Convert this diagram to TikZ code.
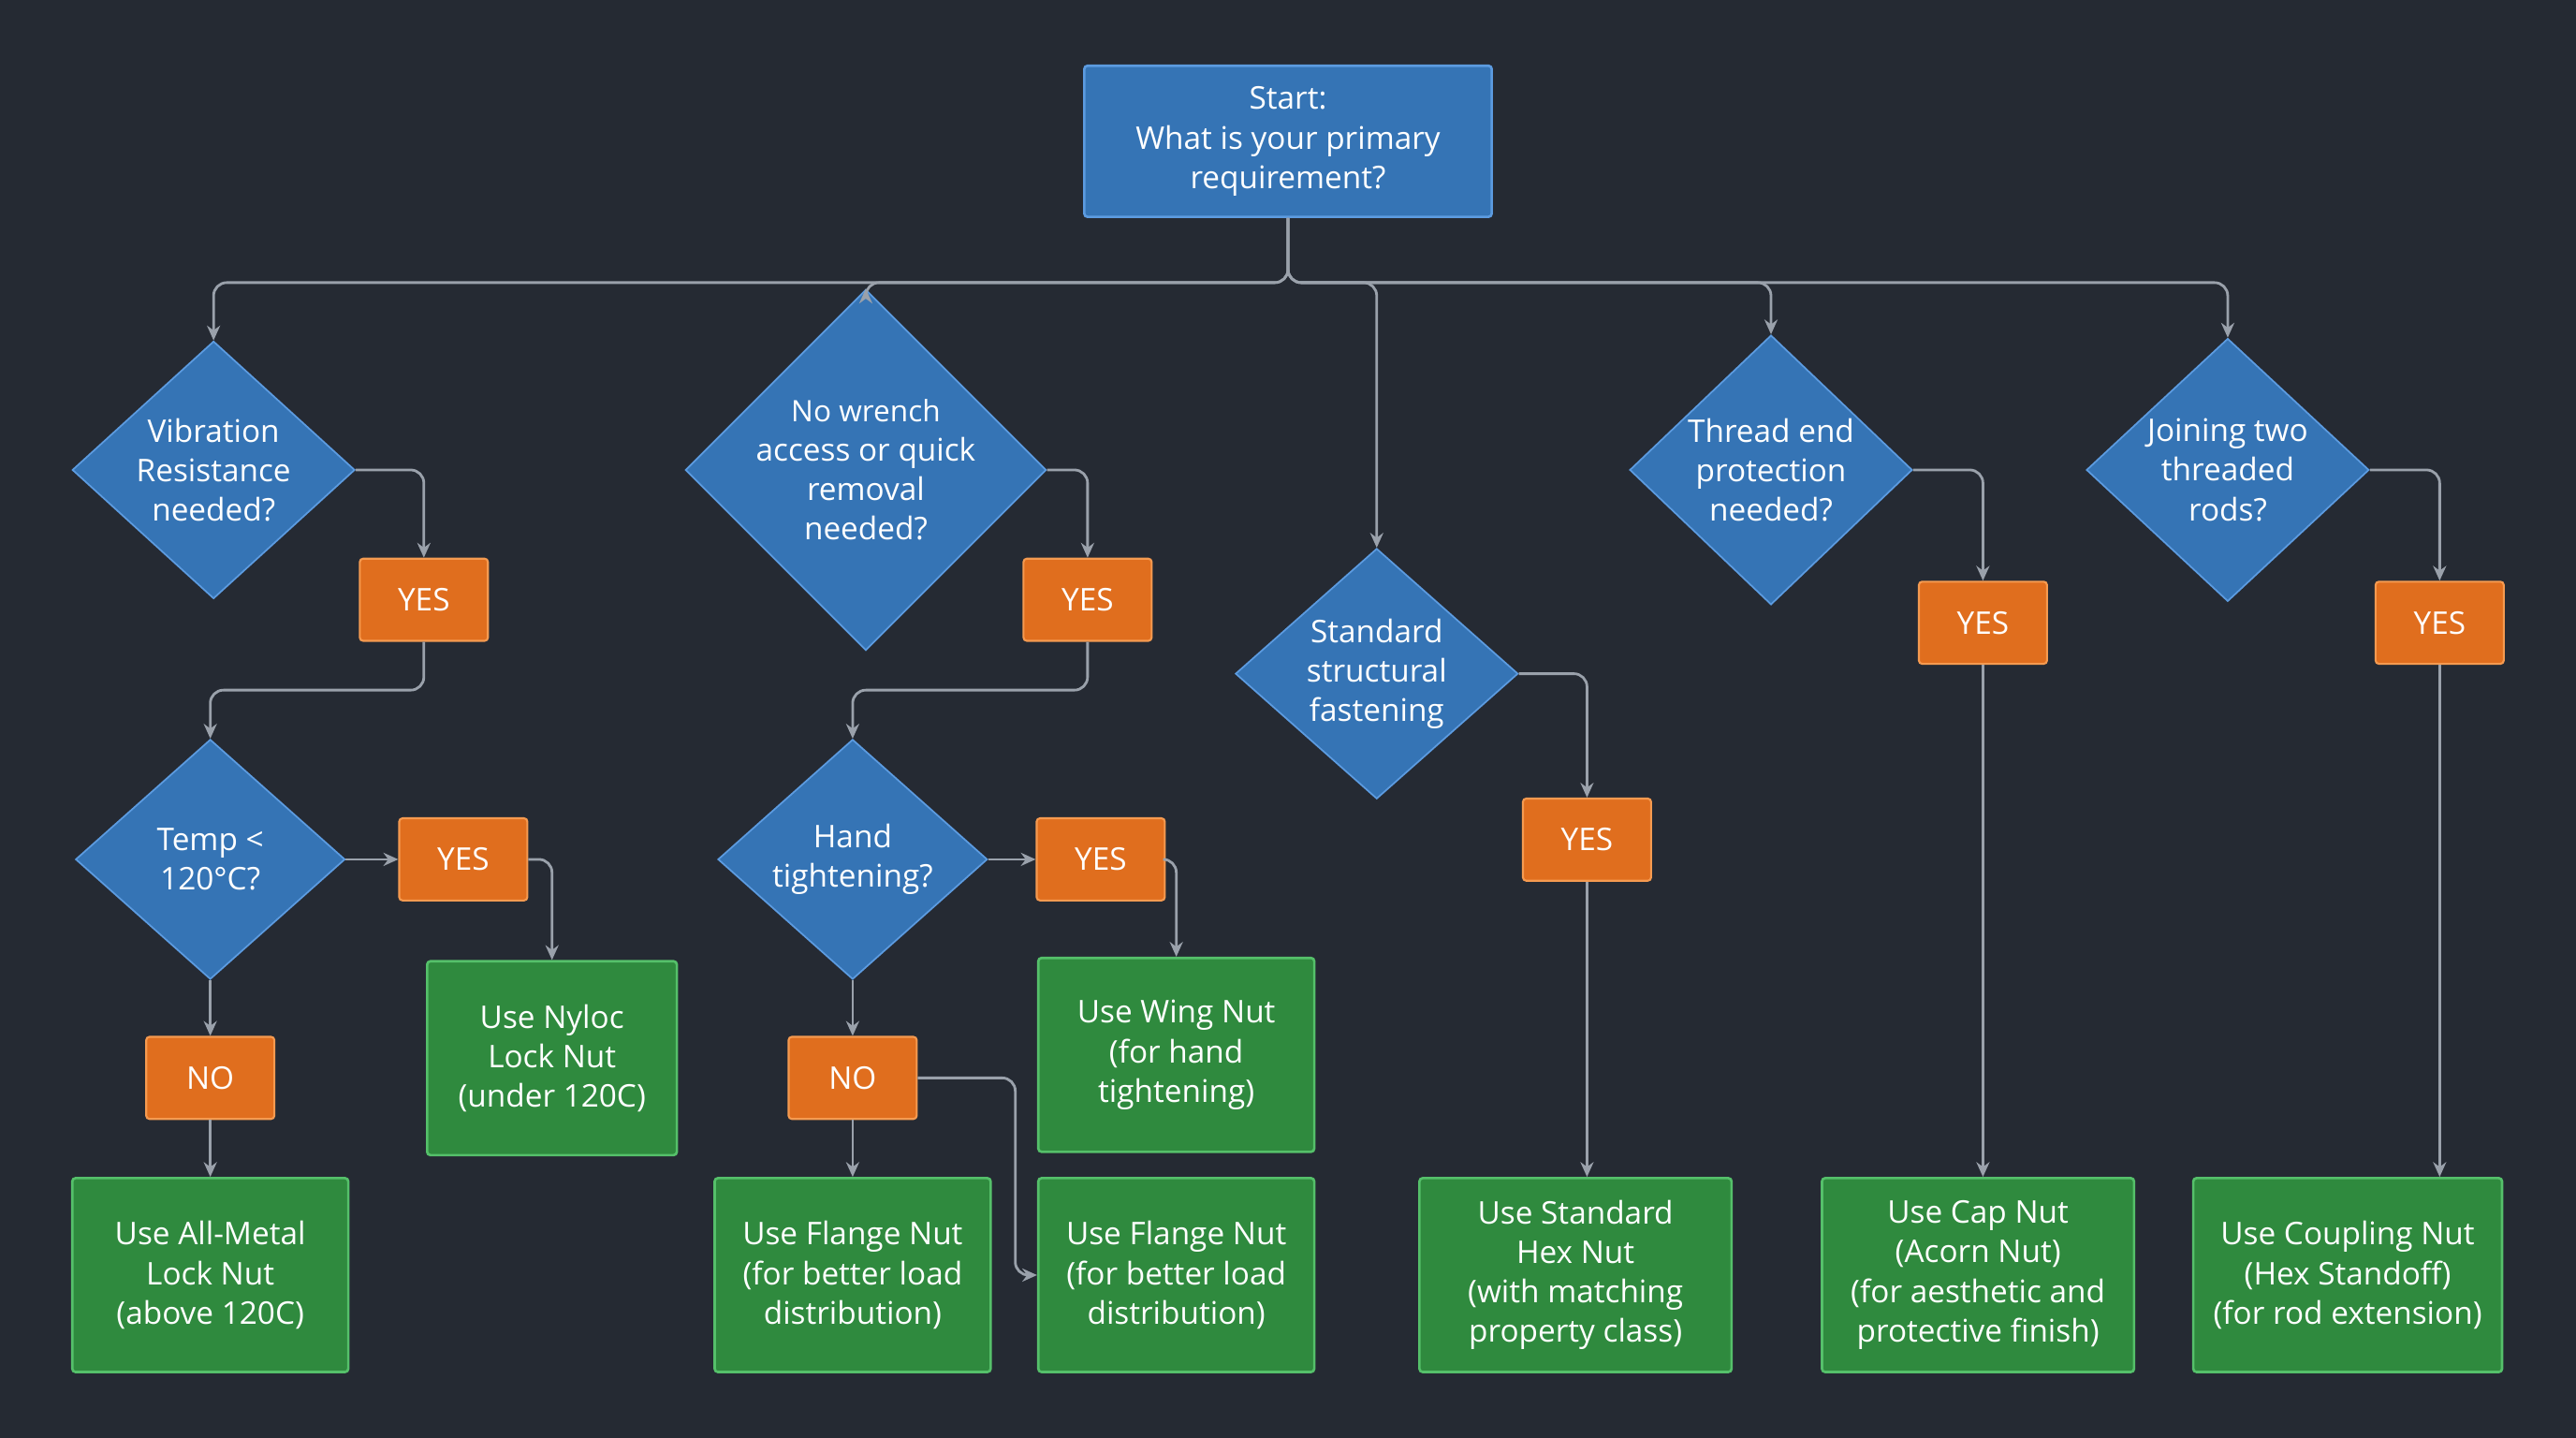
\documentclass[tikz,border=0pt]{standalone}
\usepackage{fontspec}
\setmainfont{Open Sans}
\usetikzlibrary{shapes.geometric,arrows.meta,calc}
\definecolor{bg}{HTML}{252A33}
\definecolor{bfill}{HTML}{3574B5}
\definecolor{bdraw}{HTML}{5C9BE0}
\definecolor{ofill}{HTML}{E06E1E}
\definecolor{odraw}{HTML}{F59A50}
\definecolor{gfill}{HTML}{2F8A3E}
\definecolor{gdraw}{HTML}{55C06A}
\definecolor{ln}{HTML}{9AA1AB}
\tikzset{
 txt/.style={text=white,font=\fontsize{19}{24}\selectfont,align=center,inner sep=0pt},
 startbox/.style={txt,fill=bfill,draw=bdraw,line width=1.5pt,minimum width=248pt,minimum height=92pt,rounded corners=2pt},
 dec/.style={txt,diamond,fill=bfill,draw=bdraw,line width=1pt,minimum width=#1,minimum height=152pt},
 ans/.style={txt,fill=ofill,draw=odraw,line width=1.2pt,minimum width=78pt,minimum height=50pt,rounded corners=2pt},
 res/.style={txt,fill=gfill,draw=gdraw,line width=1.5pt,minimum width=#1,minimum height=118pt,rounded corners=2pt},
 con/.style={draw=ln,line width=1.6pt,rounded corners=8pt,-{Stealth[length=9pt,width=8pt]}}
}
\begin{document}
\begin{tikzpicture}[x=1pt,y=-1pt]
\fill[bg] (0,0) rectangle (1568,875);
\useasboundingbox (0,0) rectangle (1568,875);
\node[startbox] (start) at (784,86) {Start:\\What is your primary\\requirement?};
\node[dec=172pt] (vib) at (130,286) {Vibration\\Resistance\\needed?};
\node[dec=186pt] (wr) at (527,286) {\fontsize{18}{22}\selectfont No wrench\\access or quick\\removal\\needed?};
\node[dec=172pt] (std) at (838,410) {Standard\\structural\\fastening};
\node[dec=172pt] (thr) at (1078,286) {Thread end\\protection\\needed?};
\node[dec=172pt] (join) at (1356,286) {Joining two\\threaded\\rods?};
\node[dec=164pt,minimum height=146pt] (temp) at (128,523) {Temp <\\120°C?};
\node[dec=164pt,minimum height=146pt] (hand) at (519,523) {Hand\\tightening?};
\node[ans] (y1) at (258,365) {YES};
\node[ans] (y2) at (662,365) {YES};
\node[ans] (y3) at (966,511) {YES};
\node[ans] (y4) at (1207,379) {YES};
\node[ans] (y5) at (1485,379) {YES};
\node[ans] (yt) at (282,523) {YES};
\node[ans] (yh) at (670,523) {YES};
\node[ans] (n1) at (128,656) {NO};
\node[ans] (n2) at (519,656) {NO};
\node[res=152pt] (nyl) at (336,644) {Use Nyloc\\Lock Nut\\(under 120C)};
\node[res=168pt] (wing) at (716,642) {Use Wing Nut\\(for hand\\tightening)};
\node[res=168pt] (am) at (128,776) {Use All-Metal\\Lock Nut\\(above 120C)};
\node[res=168pt] (fl1) at (519,776) {Use Flange Nut\\(for better load\\distribution)};
\node[res=168pt] (fl2) at (716,776) {Use Flange Nut\\(for better load\\distribution)};
\node[res=190pt] (hex) at (959,776) {Use Standard\\Hex Nut\\(with matching\\property class)};
\node[res=190pt] (cap) at (1204,776) {Use Cap Nut\\(Acorn Nut)\\(for aesthetic and\\protective finish)};
\node[res=188pt] (cpl) at (1429,776) {Use Coupling Nut\\(Hex Standoff)\\(for rod extension)};
\coordinate (bus) at (784,172);
\foreach \t in {vib,wr,thr,join}{\draw[con] (start.south) -- (bus) -| (\t.north);}
\draw[con] (start.south) -- (bus) -| (std.north);
\draw[con] (vib.east) -| (y1.north);
\draw[con] (y1.south) -- (258,420) -| (temp.north);
\draw[con] (temp.east) -- (yt.west);
\draw[con] (yt.east) -| (nyl.north);
\draw[con] (temp.south) -- (n1.north);
\draw[con] (n1.south) -- (am.north);
\draw[con] (wr.east) -| (y2.north);
\draw[con] (y2.south) -- (662,420) -| (hand.north);
\draw[con] (hand.east) -- (yh.west);
\draw[con] (yh.east) -| (wing.north);
\draw[con] (hand.south) -- (n2.north);
\draw[con] (n2.south) -- (fl1.north);
\coordinate (nb) at (618,776);
\draw[con] (n2.east) -| (nb) -- (fl2.west);
\draw[con] (std.east) -| (y3.north);
\draw[con] (y3.south) -- (hex.north -| y3.south);
\draw[con] (thr.east) -| (y4.north);
\draw[con] (y4.south) -- (cap.north -| y4.south);
\draw[con] (join.east) -| (y5.north);
\draw[con] (y5.south) -- (cpl.north -| y5.south);
\end{tikzpicture}
\end{document}
